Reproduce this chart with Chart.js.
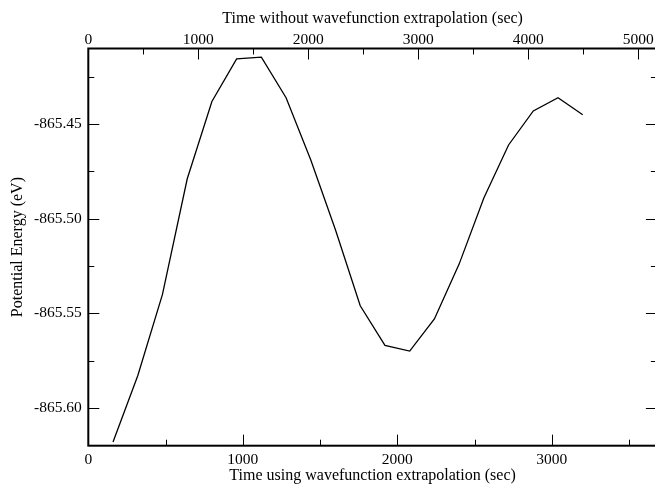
<!DOCTYPE html>
<html>
<head>
<meta charset="utf-8">
<script src="https://cdn.jsdelivr.net/npm/chart.js@4.4.0/dist/chart.umd.min.js"></script>
<style>
  html, body { margin: 0; padding: 0; background: #fff; overflow: hidden; }
  #wrap { width: 660px; height: 484px; }
</style>
</head>
<body>
<div id="wrap"><canvas id="energyChart" width="660" height="484"></canvas></div>
<script>
/* ── Dados ── */
const timeWith = [160, 320, 480, 640, 800, 960, 1120, 1280, 1440, 1600,
                  1760, 1920, 2080, 2240, 2400, 2560, 2720, 2880, 3040, 3200];
const energy = [-865.618, -865.583, -865.540, -865.479, -865.438, -865.4155, -865.4146,
                -865.436, -865.469, -865.506, -865.546, -865.567, -865.570, -865.553,
                -865.524, -865.489, -865.461, -865.443, -865.436, -865.445];

const bottomTicks  = [0, 1000, 2000, 3000];
const bottomMinor  = [500, 1500, 2500, 3500];
const topTicks     = [0, 1000, 2000, 3000, 4000, 5000];
const topMinor     = [500, 1500, 2500, 3500, 4500];
const energyTicks  = [-865.60, -865.55, -865.50, -865.45];
const energyMinor  = [-865.575, -865.525, -865.475, -865.425];

/* ── Faixas dos eixos ── */
const X_MAX = 3680, X2_MAX = 5170;
const Y_MIN = -865.62, Y_MAX = -865.41;

const FAMILY = "'Liberation Serif', 'DejaVu Serif', serif";
const TICK_FONT  = { family: FAMILY, size: 15.5 };
const TITLE_FONT = { family: FAMILY, size: 16 };
const toTicks = arr => s => { s.ticks = arr.map(v => ({ value: v })); };

/* ── Moldura + marcas para dentro ── */
const frameTicks = {
  id: 'frameTicks',
  afterDraw(chart) {
    const { ctx, chartArea: a, scales } = chart;
    const MAJ = 11, MIN = 6;
    ctx.save();
    ctx.strokeStyle = '#000';
    ctx.lineWidth = 1;
    ctx.beginPath();
    const vert = (scale, vals, len, edge, dir) => vals.forEach(v => {
      const x = Math.round(scale.getPixelForValue(v)) + 0.5;
      ctx.moveTo(x, edge); ctx.lineTo(x, edge + dir * len);
    });
    const horz = (scale, vals, len, edge, dir) => vals.forEach(v => {
      const y = Math.round(scale.getPixelForValue(v)) + 0.5;
      ctx.moveTo(edge, y); ctx.lineTo(edge + dir * len, y);
    });
    vert(scales.x, bottomTicks, MAJ, a.bottom, -1);
    vert(scales.x, bottomMinor, MIN, a.bottom, -1);
    vert(scales.x2, topTicks, MAJ, a.top, 1);
    vert(scales.x2, topMinor, MIN, a.top, 1);
    horz(scales.y, energyTicks, MAJ, a.left, 1);
    horz(scales.y, energyMinor, MIN, a.left, 1);
    horz(scales.y, energyTicks, MAJ, a.right, -1);
    horz(scales.y, energyMinor, MIN, a.right, -1);
    ctx.stroke();

    ctx.lineWidth = 2;
    ctx.strokeRect(a.left, a.top, a.right - a.left, a.bottom - a.top);
    ctx.restore();
  }
};

const axisBase = {
  type: 'linear',
  grid: { display: false, drawTicks: false },
  border: { display: false },
};

new Chart(document.getElementById('energyChart'), {
  type: 'line',
  data: {
    datasets: [{
      data: timeWith.map((t, i) => ({ x: t, y: energy[i] })),
      borderColor: '#000',
      borderWidth: 1.3,
      pointRadius: 0,
      tension: 0,
      fill: false,
      xAxisID: 'x',
      yAxisID: 'y',
    }]
  },
  options: {
    responsive: false,
    animation: false,
    layout: { padding: 0 },
    plugins: { legend: { display: false }, tooltip: { enabled: false } },
    scales: {
      x: {
        ...axisBase,
        position: 'bottom',
        min: 0, max: X_MAX,
        afterBuildTicks: toTicks(bottomTicks),
        afterFit: s => { s.height = 38.3; },
        ticks: { color: '#000', font: TICK_FONT, padding: 5, maxRotation: 0, callback: v => String(v) },
        title: { display: true, text: 'Time using wavefunction extrapolation (sec)',
                 color: '#000', font: TITLE_FONT, padding: { top: 0, bottom: -1.5 } },
      },
      x2: {
        ...axisBase,
        position: 'top',
        min: 0, max: X2_MAX,
        afterBuildTicks: toTicks(topTicks),
        afterFit: s => { s.height = 48.5; },
        ticks: { color: '#000', font: TICK_FONT, padding: -1, maxRotation: 0, callback: v => String(v) },
        title: { display: true, text: 'Time without wavefunction extrapolation (sec)',
                 color: '#000', font: TITLE_FONT, padding: { top: 9.5, bottom: 0 } },
      },
      y: {
        ...axisBase,
        position: 'left',
        min: Y_MIN, max: Y_MAX,
        afterBuildTicks: toTicks(energyTicks),
        afterFit: s => { s.width = 88.3; },
        ticks: { color: '#000', font: TICK_FONT, padding: 6.5, callback: v => v.toFixed(2) },
        title: { display: true, text: 'Potential Energy (eV)',
                 color: '#000', font: TITLE_FONT, padding: { top: 8.5, bottom: 0 } },
      },
      y2: {
        ...axisBase,
        position: 'right',
        min: Y_MIN, max: Y_MAX,
        ticks: { display: false },
        afterFit: s => { s.width = 3.1; },
      }
    }
  },
  plugins: [frameTicks]
});
</script>
</body>
</html>
